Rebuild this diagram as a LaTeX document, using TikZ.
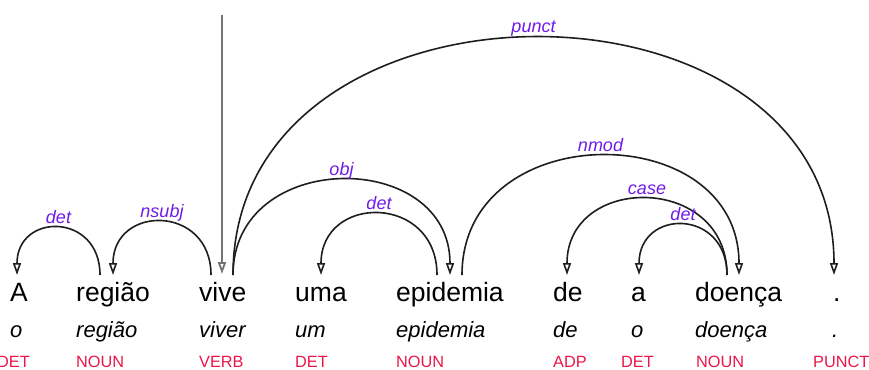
\documentclass[tikz,border=0pt]{standalone}
\usepackage{fontspec}
\setmainfont{Liberation Sans}
\usetikzlibrary{arrows.meta,calc}

\definecolor{deplabel}{RGB}{112,28,232}
\definecolor{postag}{RGB}{236,22,72}
\definecolor{arcink}{RGB}{30,30,30}

\tikzset{
  word/.style={anchor=base west,inner sep=0pt,font=\fontsize{26.5}{30}\selectfont,text=black},
  lemma/.style={anchor=base west,inner sep=0pt,font=\fontsize{22}{26}\selectfont\itshape,text=black},
  upos/.style={anchor=base west,inner sep=0pt,text depth=0pt,font=\fontsize{16.3}{19}\selectfont,text=postag},
  arclabel/.style={anchor=base,inner sep=0pt,font=\fontsize{18}{21}\selectfont\itshape,text=deplabel},
  arcline/.style={draw=arcink,line width=1.6pt,-{Triangle[open,length=12pt,width=8pt]}},
  rootline/.style={draw=black!55,line width=1.8pt,-{Triangle[open,length=12pt,width=8pt]}},
}

% #1 head point, #2 dependent point, #3 arc height, #4 label node name, #5 label
\newcommand\deparc[5]{%
  \draw[arcline] (#1) .. controls ($(#1)+(0,-#3/0.75)$) and ($(#2)+(0,-#3/0.75)$) .. (#2);
  \node[arclabel] (#4) at ($(#1)!0.5!(#2)+(0,-#3-5)$) {#5};
}

\begin{document}
\begin{tikzpicture}[x=1pt,y=-1pt]
\useasboundingbox[fill=white] (0,0) rectangle (869,369);

% token row
\node[word] (w1) at (10,301) {A};
\node[word] (w2) at (76,301) {região};
\node[word] (w3) at (199,301) {vive};
\node[word] (w4) at (295,301) {uma};
\node[word] (w5) at (396,301) {epidemia};
\node[word] (w6) at (553,301) {de};
\node[word] (w7) at (631,301) {a};
\node[word] (w8) at (695,301) {doença};
\node[word] (w9) at (833,301) {.};

% lemma row
\node[lemma] (l1) at (10,337) {o};
\node[lemma] (l2) at (76,337) {região};
\node[lemma] (l3) at (199,337) {viver};
\node[lemma] (l4) at (295,337) {um};
\node[lemma] (l5) at (396,337) {epidemia};
\node[lemma] (l6) at (553,337) {de};
\node[lemma] (l7) at (631,337) {o};
\node[lemma] (l8) at (695,337) {doença};
\node[lemma] (l9) at (832,337) {.};

% part-of-speech row
\node[upos] (p1) at (-3,367) {DET};
\node[upos] (p2) at (76,367) {NOUN};
\node[upos] (p3) at (199,367) {VERB};
\node[upos] (p4) at (295,367) {DET};
\node[upos] (p5) at (396,367) {NOUN};
\node[upos] (p6) at (553,367) {ADP};
\node[upos] (p7) at (621,367) {DET};
\node[upos] (p8) at (696,367) {NOUN};
\node[upos] (p9) at (813,367) {PUNCT};

% attachment points of the arcs above the tokens
\coordinate (A-in) at (17,275);
\coordinate (regiao-out) at (100,275);
\coordinate (regiao-in) at (113,275);
\coordinate (vive-outl) at (211,275);
\coordinate (root-top) at (222,15);
\coordinate (vive-root) at (222,274);
\coordinate (vive-outr) at (233,275);
\coordinate (uma-in) at (321,275);
\coordinate (epidemia-outl) at (437,275);
\coordinate (epidemia-in) at (450,275);
\coordinate (epidemia-outr) at (462,275);
\coordinate (de-in) at (567,275);
\coordinate (a-in) at (639,275);
\coordinate (doenca-out) at (727,275);
\coordinate (doenca-in) at (739,275);
\coordinate (dot-in) at (834,275);

% root
\draw[rootline] (root-top) -- (vive-root);

% dependency arcs
\deparc{regiao-out}{A-in}{47}{r1}{det}
\deparc{vive-outl}{regiao-in}{53}{r2}{nsubj}
\deparc{vive-outr}{epidemia-in}{95}{r3}{obj}
\deparc{epidemia-outl}{uma-in}{61}{r4}{det}
\deparc{vive-outr}{dot-in}{237}{r5}{punct}
\deparc{epidemia-outr}{doenca-in}{119}{r6}{nmod}
\deparc{doenca-out}{de-in}{76}{r7}{case}
\deparc{doenca-out}{a-in}{50}{r8}{det}
\end{tikzpicture}
\end{document}
